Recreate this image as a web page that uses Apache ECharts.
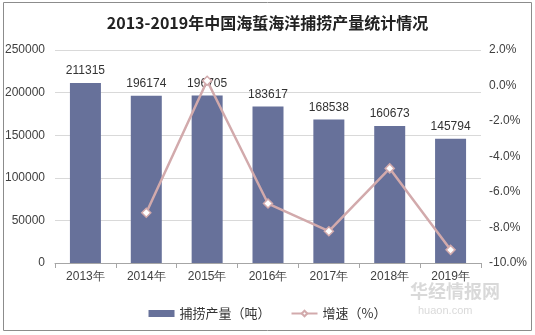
<!DOCTYPE html>
<html><head><meta charset="utf-8">
<script src="https://cdn.jsdelivr.net/npm/echarts@6/dist/echarts.min.js"></script>
<style>html,body{margin:0;padding:0;background:#fff}#c{width:535px;height:335px}</style>
</head><body><div id="c"></div>
<script>
var categories = ['2013年','2014年','2015年','2016年','2017年','2018年','2019年'];
var output = [211315,196174,196705,183617,168538,160673,145794];
var growth = [null,-7.17,0.27,-6.65,-8.21,-4.67,-9.26];
var leftTicks = {min:0,max:250000,interval:50000};
var rightTicks = {min:-10,max:2,interval:2};

var chart = echarts.init(document.getElementById('c'));
var axisText = {color:'#404040',fontSize:12,fontFamily:'Liberation Sans, Arial, sans-serif'};
chart.setOption({
  animation:false,
  title:{text:'2013-2019年中国海蜇海洋捕捞产量统计情况',left:'center',top:10,
    textStyle:{fontSize:16,fontWeight:'bold',color:'#222',fontFamily:'Noto Sans CJK SC'}},
  graphic:[
    {type:'rect',shape:{x:3.5,y:2.5,width:528,height:328},style:{fill:'none',stroke:'#8c8c8c',lineWidth:1},silent:true},
    {type:'text',left:410,top:282,style:{text:'华经情报网',fill:'rgba(170,170,170,0.45)',font:'bold 18px Noto Sans CJK SC'},silent:true},
    {type:'text',left:418,top:305,style:{text:'huaon.com',fill:'rgba(170,170,170,0.45)',font:'11px Liberation Sans'},silent:true}
  ],
  legend:{bottom:10,left:'center',itemGap:20,itemWidth:26,itemHeight:7,
    textStyle:{fontSize:13,color:'#333',fontFamily:'Noto Sans CJK SC'},
    data:[{name:'捕捞产量（吨）',icon:'rect'},{name:'增速（%）'}]},
  grid:{left:55,right:54,top:50,bottom:72},
  xAxis:{type:'category',data:categories,
    axisLine:{lineStyle:{color:'#a6a6a6'}},
    axisTick:{show:true,lineStyle:{color:'#a6a6a6'}},
    axisLabel:Object.assign({margin:8},axisText)},
  yAxis:[
    {type:'value',min:leftTicks.min,max:leftTicks.max,interval:leftTicks.interval,
     axisLine:{show:false},axisTick:{show:false},
     splitLine:{lineStyle:{color:'#d9d9d9'}},
     axisLabel:Object.assign({margin:10,formatter:function(v){return String(v);}},axisText)},
    {type:'value',min:rightTicks.min,max:rightTicks.max,interval:rightTicks.interval,
     axisLine:{show:false},axisTick:{show:false},splitLine:{show:false},
     axisLabel:Object.assign({margin:8,formatter:function(v){return v.toFixed(1)+'%';}},axisText)}
  ],
  series:[
    {name:'捕捞产量（吨）',type:'bar',data:output,barWidth:31,
     itemStyle:{color:'#67719a'},
     label:{show:true,position:'top',distance:6,color:'#333',fontSize:12,fontFamily:'Liberation Sans, Arial, sans-serif'}},
    {name:'增速（%）',type:'line',yAxisIndex:1,data:growth,
     symbol:'diamond',symbolSize:9,connectNulls:false,
     lineStyle:{color:'#d2aaac',width:2.5},
     itemStyle:{color:'#fff',borderColor:'#d2aaac',borderWidth:1.5}}
  ]
});
</script></body></html>
